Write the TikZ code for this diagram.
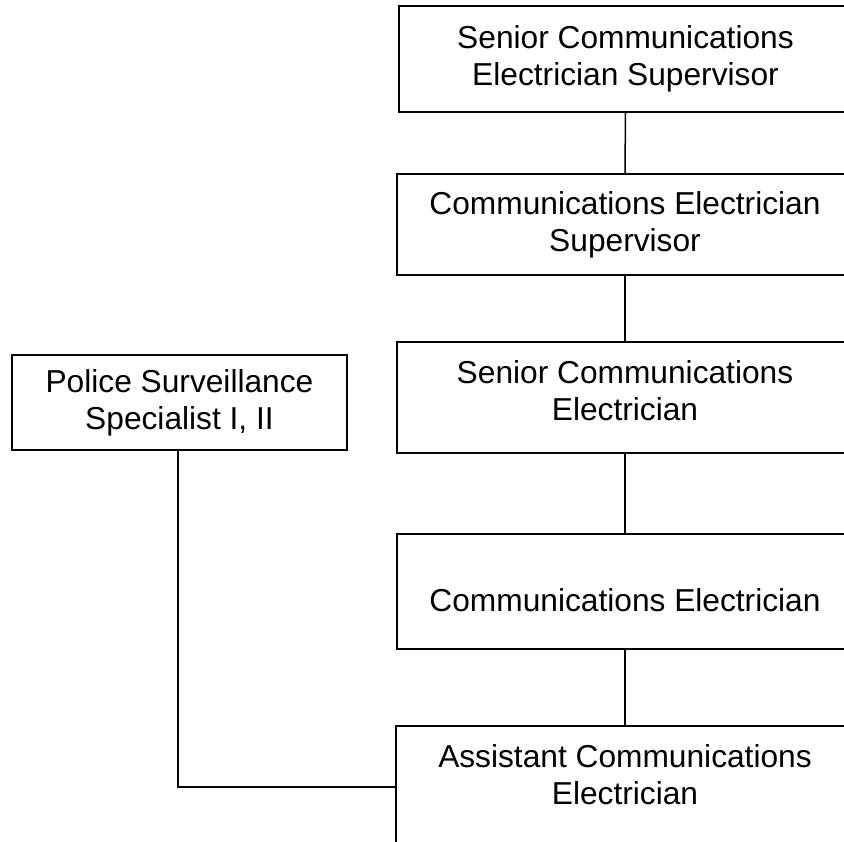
\documentclass[tikz,border=0pt]{standalone}
\usepackage{fontspec}
\setmainfont{Liberation Sans}
\begin{document}
\begin{tikzpicture}[x=1pt,y=-1pt,
  line width=1.5pt,
  box/.style={draw, rectangle, align=center, inner sep=0pt,
    font=\fontsize{31.7}{37}\selectfont},
  boxtext/.style={align=center, inner sep=0pt,
    font=\fontsize{31.7}{37}\selectfont},
  conn/.style={draw, line width=1.5pt}]
\useasboundingbox (0,0) rectangle (844,842);
\node[box, minimum width=453pt, minimum height=106pt] (a) at (625.5,59) {Senior Communications\\Electrician Supervisor};
\node[box, minimum width=456pt, minimum height=101pt] (b) at (625,224.5) {Communications Electrician\\Supervisor};
\node[box, minimum width=456pt, minimum height=111pt] (c) at (625,397.5) {};
\node[boxtext] (ct) at (625,391) {Senior Communications\\Electrician};
\node[box, minimum width=456pt, minimum height=115pt] (d) at (625,591.5) {};
\node[boxtext] (dt) at (625,600.5) {Communications Electrician};
\node[box, minimum width=335pt, minimum height=95pt] (p) at (179.5,402.5) {Police Surveillance\\Specialist I, II};
\node[boxtext] (e) at (625,774.5) {Assistant Communications\\Electrician};
\draw (396,726) rectangle (854,900);
\coordinate (etop) at (625,726);
\coordinate (ewest) at (396,787);
\coordinate (bend) at (178,787);
\draw[conn] (a.south) -- (b.north);
\draw[conn] (b.south) -- (c.north);
\draw[conn] (c.south) -- (d.north);
\draw[conn] (d.south) -- (etop);
\draw[conn] (p.south -| bend) -- (bend) -- (ewest);
\end{tikzpicture}
\end{document}
